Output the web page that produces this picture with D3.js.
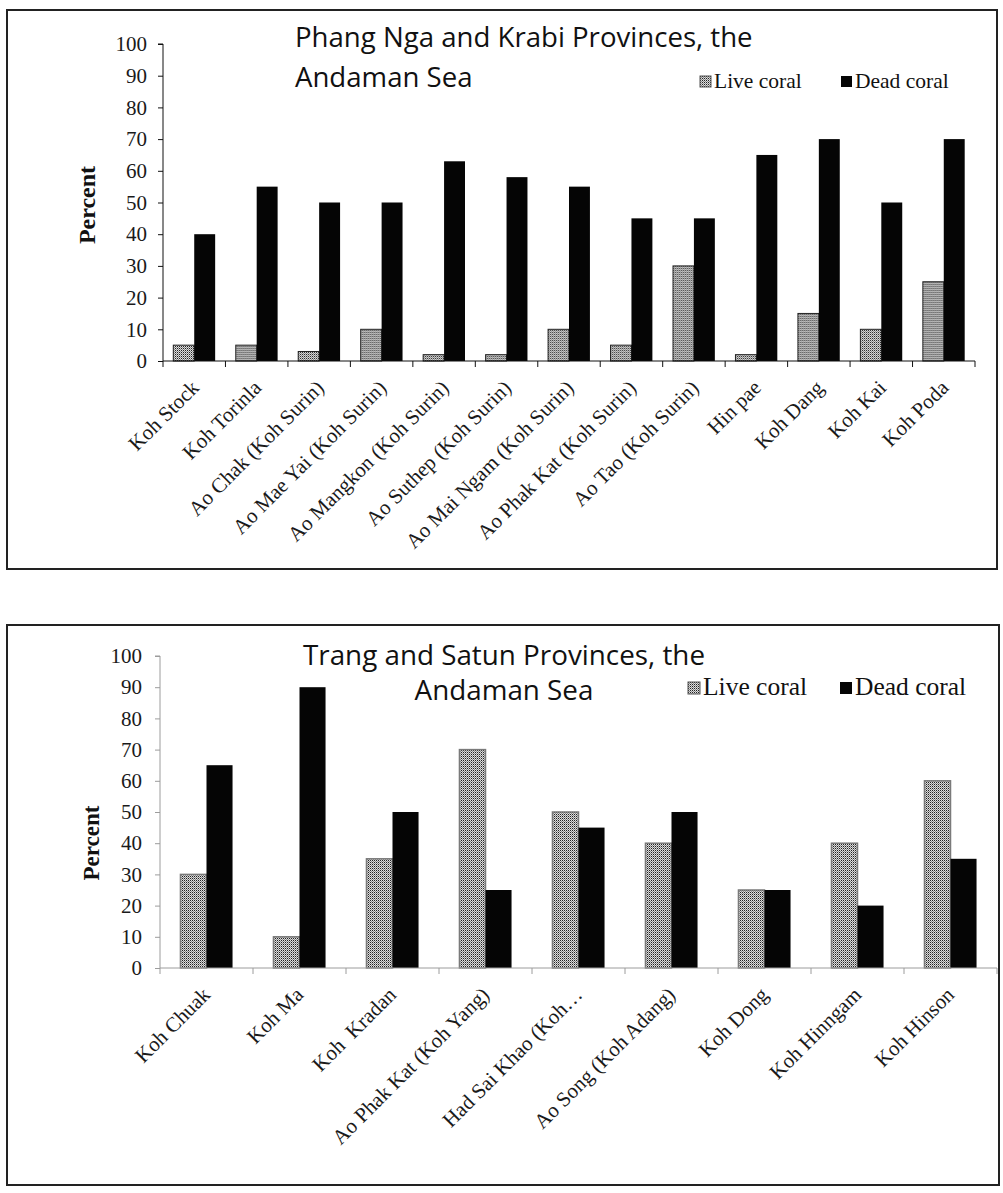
<!DOCTYPE html>
<html>
<head>
<meta charset="utf-8">
<script src="https://cdn.jsdelivr.net/npm/d3@7/dist/d3.min.js"></script>
<style>
  html, body { margin: 0; padding: 0; background: #fff; }
  svg { display: block; }
</style>
</head>
<body>
<svg id="chart" width="1003" height="1193"></svg>
<script>
// Coral cover survey, Andaman Sea coast of Thailand
const yTicks = [0, 10, 20, 30, 40, 50, 60, 70, 80, 90, 100];
const seriesNames = ["Live coral", "Dead coral"];

// Phang Nga and Krabi sites
const northSites = ["Koh Stock", "Koh Torinla", "Ao Chak (Koh Surin)", "Ao Mae Yai (Koh Surin)",
  "Ao Mangkon (Koh Surin)", "Ao Suthep (Koh Surin)", "Ao Mai Ngam (Koh Surin)",
  "Ao Phak Kat (Koh Surin)", "Ao Tao (Koh Surin)", "Hin pae", "Koh Dang", "Koh Kai", "Koh Poda"];
const northLive = [5, 5, 3, 10, 2, 2, 10, 5, 30, 2, 15, 10, 25];
const northDead = [40, 55, 50, 50, 63, 58, 55, 45, 45, 65, 70, 50, 70];

// Trang and Satun sites
const southSites = ["Koh Chuak", "Koh Ma", "Koh  Kradan", "Ao Phak Kat (Koh Yang)",
  "Had Sai Khao (Koh\u2026", "Ao Song (Koh Adang)", "Koh Dong", "Koh Hinngam", "Koh Hinson"];
const southLive = [30, 10, 35, 70, 50, 40, 25, 40, 60];
const southDead = [65, 90, 50, 25, 45, 50, 25, 20, 35];

const svg = d3.select("#chart");
const serif = "'Liberation Serif', 'Times New Roman', serif";
const sans = "'Open Sans', Lato, sans-serif";

// stipple fill used for live coral bars
const defs = svg.append("defs");
const pat = defs.append("pattern").attr("id", "stipple")
  .attr("width", 2).attr("height", 2).attr("patternUnits", "userSpaceOnUse");
pat.append("rect").attr("width", 2).attr("height", 2).attr("fill", "#dcdcdc");
pat.append("rect").attr("x", 0).attr("y", 0).attr("width", 1).attr("height", 1).attr("fill", "#222");
pat.append("rect").attr("x", 1).attr("y", 1).attr("width", 1).attr("height", 1).attr("fill", "#888");

function drawPanel(cfg) {
  const g = svg.append("g");

  g.append("rect")
    .attr("x", cfg.frame.x).attr("y", cfg.frame.y)
    .attr("width", cfg.frame.w).attr("height", cfg.frame.h)
    .attr("fill", "none").attr("stroke", "#222").attr("stroke-width", 2);

  const x0 = d3.scaleBand().domain(cfg.sites).range([cfg.left, cfg.right]).padding(0);
  const bw = x0.bandwidth();
  const gap = bw * cfg.gapFrac / 2;
  const x1 = d3.scaleBand().domain(seriesNames).range([gap, bw - gap]).padding(0);
  const y = d3.scaleLinear().domain([0, 100]).range([cfg.bottom, cfg.top]);

  const rows = cfg.sites.map((s, i) => ({ site: s, values: [cfg.live[i], cfg.dead[i]] }));

  // bars
  const grp = g.selectAll("g.site").data(rows).join("g")
    .attr("transform", d => `translate(${x0(d.site)},0)`);
  grp.selectAll("rect").data(d => d.values.map((v, k) => ({ key: seriesNames[k], v })))
    .join("rect")
    .attr("x", d => x1(d.key))
    .attr("y", d => y(d.v))
    .attr("width", x1.bandwidth())
    .attr("height", d => y(0) - y(d.v))
    .attr("fill", d => d.key === "Live coral" ? "url(#stipple)" : "#050505")
    .attr("stroke", d => d.key === "Live coral" ? cfg.liveStroke : "none")
    .attr("stroke-width", cfg.liveStrokeWidth);

  // y axis
  const yAxis = d3.axisLeft(y).tickValues(yTicks).tickSize(5).tickPadding(cfg.tickPad);
  const ya = g.append("g").attr("transform", `translate(${cfg.left},0)`).call(yAxis);
  ya.attr("font-family", null).attr("font-size", null);
  ya.select(".domain").attr("stroke", cfg.axisColor).attr("d", `M-5,${y(100)}H0V${y(0)}`);
  ya.selectAll(".tick line").attr("stroke", cfg.axisColor);
  ya.selectAll(".tick text").attr("fill", "#1a1a1a")
    .style("font-family", serif).style("font-size", cfg.tickFont + "px");

  // x axis with ticks between categories
  const bounds = cfg.sites.map(s => x0(s)).concat([cfg.right]);
  g.append("line").attr("x1", cfg.left).attr("x2", cfg.right)
    .attr("y1", y(0)).attr("y2", y(0)).attr("stroke", cfg.axisColor);
  g.selectAll("line.xt").data(bounds).join("line").attr("class", "xt")
    .attr("x1", d => d).attr("x2", d => d)
    .attr("y1", y(0)).attr("y2", y(0) + 6).attr("stroke", cfg.axisColor);

  g.selectAll("text.cat").data(cfg.sites).join("text").attr("class", "cat")
    .attr("transform", d => `translate(${x0(d) + bw / 2 + cfg.labelDx},${y(0) + cfg.labelDy}) rotate(-45)`)
    .attr("text-anchor", "end")
    .style("white-space", "pre")
    .style("font-family", serif).style("font-size", cfg.catFont + "px")
    .attr("fill", "#1a1a1a")
    .text(d => d);

  // y title
  g.append("text")
    .attr("transform", `translate(${cfg.yTitle.x},${cfg.yTitle.y}) rotate(-90)`)
    .attr("text-anchor", "middle")
    .style("font-family", serif).style("font-size", cfg.yTitle.size + "px")
    .style("font-weight", "bold").attr("fill", "#111")
    .text("Percent");

  // chart title
  const t = g.append("text")
    .style("font-family", sans).style("font-size", cfg.title.size + "px")
    .attr("fill", "#111").attr("text-anchor", cfg.title.anchor);
  cfg.title.lines.forEach((ln, i) => {
    t.append("tspan").attr("x", cfg.title.x).attr("y", cfg.title.y[i]).text(ln);
  });

  // legend
  const lg = g.append("g");
  seriesNames.forEach((name, k) => {
    const L = cfg.legend[k];
    lg.append("rect").attr("x", L.x).attr("y", L.y - L.box).attr("width", L.box).attr("height", L.box)
      .attr("fill", k === 0 ? "url(#stipple)" : "#050505")
      .attr("stroke", k === 0 ? "#555" : "none").attr("stroke-width", 1);
    lg.append("text").attr("x", L.x + L.box + 3).attr("y", L.y + 1)
      .style("font-family", serif).style("font-size", cfg.legendFont + "px")
      .attr("fill", "#111").text(name);
  });
}

drawPanel({
  frame: { x: 7, y: 10, w: 990, h: 559 },
  sites: northSites, live: northLive, dead: northDead,
  left: 163, right: 975, top: 44, bottom: 361,
  gapFrac: 0.33, axisColor: "#111", liveStroke: "#222", liveStrokeWidth: 1,
  tickFont: 21, tickPad: 11, catFont: 21, labelDx: 6, labelDy: 28,
  yTitle: { x: 95, y: 205, size: 24 },
  title: { lines: ["Phang Nga and Krabi Provinces, the", "Andaman Sea"], x: 295, y: [47, 87], size: 27.6, anchor: "start" },
  legend: [{ x: 700, y: 87, box: 11 }, { x: 841, y: 87, box: 11 }],
  legendFont: 21.5
});

drawPanel({
  frame: { x: 7, y: 625, w: 992, h: 560 },
  sites: southSites, live: southLive, dead: southDead,
  left: 160, right: 997, top: 656, bottom: 968,
  gapFrac: 0.44, axisColor: "#9c9c9c", liveStroke: "#7a7a7a", liveStrokeWidth: 1.5,
  tickFont: 21, tickPad: 13, catFont: 21, labelDx: 5, labelDy: 28,
  yTitle: { x: 99, y: 843, size: 23 },
  title: { lines: ["Trang and Satun Provinces, the", "Andaman Sea"], x: 504, y: [665, 700], size: 27.8, anchor: "middle" },
  legend: [{ x: 688, y: 694, box: 12 }, { x: 840, y: 694, box: 12 }],
  legendFont: 25.5
});
</script>
</body>
</html>
